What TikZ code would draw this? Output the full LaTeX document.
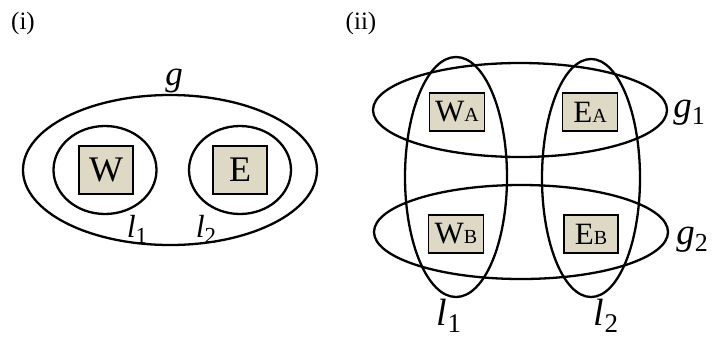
\documentclass[tikz,border=0pt]{standalone}
\usepackage{fontspec}
\setmainfont{Liberation Serif}
\usetikzlibrary{shapes.geometric}
\definecolor{tan}{RGB}{221,217,196}
\tikzset{
  ring/.style={draw, ellipse, line width=2.3pt, inner sep=0pt},
  cell/.style={draw, fill=tan, line width=1.8pt, inner sep=0pt},
  tag/.style={anchor=base, inner sep=0pt}
}
% letter with an upright index below right
\newcommand{\idx}[4]{{\fontsize{#3}{#3}\selectfont\textit{#1}\raisebox{-.2em}{\fontsize{#4}{#4}\selectfont #2}}}
\newcommand{\sm}[1]{{\fontsize{20}{20}\selectfont #1}}
\begin{document}
\begin{tikzpicture}[x=1pt,y=-1pt]
\useasboundingbox (0,0) rectangle (712,341);
\begin{scope}
    \node[tag, font=\fontsize{25}{25}\selectfont](I) at (23,29){(i)};
    \node[ring, minimum width=294, minimum height=150](g) at (170,170){};
    \node[ring, minimum width=103, minimum height=88](L1) at (105,170){};
    \node[ring, minimum width=102, minimum height=88](L2) at (240,170){};
    \node[cell, minimum width=54, minimum height=48, font=\fontsize{36}{36}\selectfont](W) at (106,170){W};
    \node[cell, minimum width=54, minimum height=48, font=\fontsize{36}{36}\selectfont](E) at (240,170){E};
    \node[tag](gT) at (174,85){\idx{g}{}{35}{22}};
    \node[tag](l1T) at (137,237){\idx{l}{1}{32}{23}};
    \node[tag](l2T) at (206,237){\idx{l}{2}{32}{23}};
\end{scope}
\begin{scope}
    \node[tag, font=\fontsize{25}{25}\selectfont](II) at (361,29){(ii)};
    \node[ring, minimum width=294, minimum height=94](g1) at (520,110){};
    \node[ring, minimum width=294, minimum height=94](g2) at (521,232){};
    \node[ring, minimum width=102, minimum height=240](l1) at (456,177){};
    \node[ring, minimum width=98, minimum height=238](l2) at (591,178){};
    \node[cell, minimum width=55, minimum height=38, font=\fontsize{31}{31}\selectfont](WA) at (457,112){W\sm{A}};
    \node[cell, minimum width=55, minimum height=38, font=\fontsize{31}{31}\selectfont](EA) at (590,112){E\sm{A}};
    \node[cell, minimum width=55, minimum height=38, font=\fontsize{31}{31}\selectfont](WB) at (456,234){W\sm{B}};
    \node[cell, minimum width=54, minimum height=38, font=\fontsize{31}{31}\selectfont](EB) at (591,234){E\sm{B}};
    \node[tag](g1T) at (689,117){\idx{g}{1}{37}{26}};
    \node[tag](g2T) at (692,244){\idx{g}{2}{37}{26}};
    \node[tag](l1T) at (449,325){\idx{l}{1}{38}{27}};
    \node[tag](l2T) at (606,325){\idx{l}{2}{38}{27}};
\end{scope}
\end{tikzpicture}
\end{document}
